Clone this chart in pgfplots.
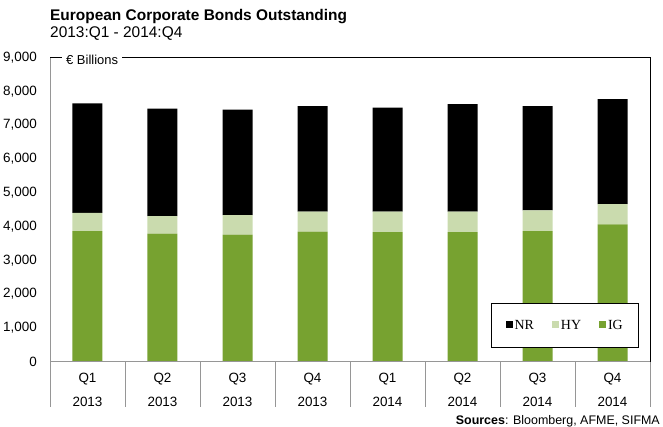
\documentclass[border=0pt]{standalone}
\usepackage{fontspec}
\setmainfont{Liberation Sans}
\newfontfamily\tnr{Liberation Serif}
\usepackage{pgfplots}
\usepackage{pgfplotstable}
\pgfplotsset{compat=1.18}

\definecolor{igcol}{RGB}{119,162,48}
\definecolor{hycol}{RGB}{202,219,174}
\definecolor{axgray}{RGB}{150,150,150}

\pgfplotstableread{
x IG HY NR
0 3860 540 3240
1 3790 520 3180
2 3760 580 3120
3 3850 590 3120
4 3830 610 3080
5 3830 610 3180
6 3860 620 3080
7 4060 600 3110
}\bonds

\begin{document}
\begin{tikzpicture}
\begin{axis}[
  at={(0,0)}, anchor=south west,
  scale only axis, width=600bp, height=304.2bp,
  ybar stacked, bar width=30bp,
  xmin=-0.5, xmax=7.5, ymin=0, ymax=9000,
  xtick={0,...,7},
  xticklabels={{Q1\\2013},{Q2\\2013},{Q3\\2013},{Q4\\2013},{Q1\\2014},{Q2\\2014},{Q3\\2014},{Q4\\2014}},
  ytick={0,1000,...,9000},
  major tick length=0pt,
  axis line style={draw=none},
  clip=false,
  /pgf/number format/.cd, 1000 sep={,}, fixed, precision=0, assume math mode=true,
  /pgfplots/.cd,
  yticklabel style={font=\fontsize{13.5}{15}\selectfont, inner sep=0pt, xshift=-13bp},
  xticklabel style={font=\fontsize{13.5}{23.5}\selectfont, align=center, anchor=north, inner sep=0pt, yshift=-11.5bp},
  reverse legend,
  legend columns=3,
  legend style={at={(0.982,0.046)}, anchor=south east, draw=black, line width=0.8bp,
    font=\tnr\fontsize{14}{16}\selectfont, inner xsep=14bp, inner ysep=14.5bp,
    /tikz/every even column/.append style={column sep=16bp}},
  legend image code/.code={\fill[#1] (0bp,-3bp) rectangle (7bp,4bp);},
]
\addplot[fill=igcol, draw=none] table[x=x, y=IG]{\bonds};
\addlegendentry{IG}
\addplot[fill=hycol, draw=none] table[x=x, y=HY]{\bonds};
\addlegendentry{HY}
\addplot[fill=black, draw=none] table[x=x, y=NR]{\bonds};
\addlegendentry{NR}
\end{axis}

% frame and category separators
\draw[axgray, line width=0.8bp] (0,0) -- (600bp,0);
\foreach \k in {0,...,8} {
  \draw[axgray, line width=0.8bp] (75bp*\k,0) -- (75bp*\k,-45.5bp);
}
\draw[axgray, line width=0.8bp] (0,0) -- (0,304.2bp);
\draw[black, line width=1bp] (0,304.2bp) -- (600bp,304.2bp) -- (600bp,0);
\node[anchor=base west, fill=white, inner xsep=4bp, inner ysep=1bp, font=\fontsize{13}{15}\selectfont]
  at (12bp,297.4bp) {€ Billions};

% titles
\node[anchor=base west, inner sep=0pt, font=\bfseries\fontsize{15.5}{18}\selectfont]
  at (0,341bp) {European Corporate Bonds Outstanding};
\node[anchor=base west, inner sep=0pt, font=\fontsize{15.5}{18}\selectfont]
  at (0,324bp) {2013:Q1 - 2014:Q4};
\node[anchor=base east, inner sep=0pt, font=\fontsize{12.5}{14}\selectfont]
  at (610bp,-62.3bp) {\textbf{Sources}: Bloomberg, AFME, SIFMA};

\pgfresetboundingbox
\path (-50bp,-65.3bp) rectangle (613bp,361.7bp);
\end{tikzpicture}
\end{document}
